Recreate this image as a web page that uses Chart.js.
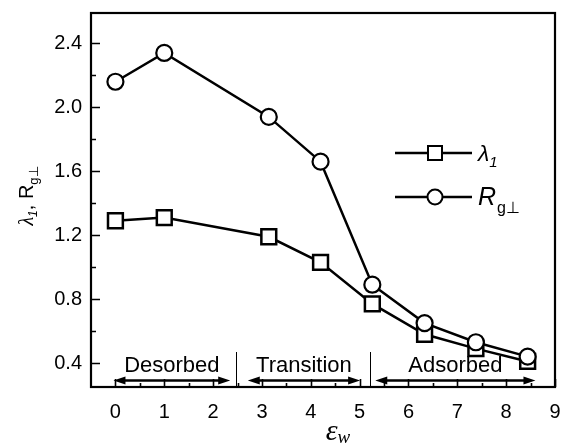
<!DOCTYPE html>
<html>
<head>
<meta charset="utf-8">
<script src="https://cdn.jsdelivr.net/npm/chart.js@4/dist/chart.umd.min.js"></script>
<style>
  html, body { margin: 0; padding: 0; background: #fff; }
  #wrap { width: 564px; height: 448px; }
</style>
</head>
<body>
<div id="wrap"><canvas id="myChart" width="564" height="448"></canvas></div>
<script>
// data
const epsW = [0, 1, 3.14, 4.2, 5.26, 6.33, 7.38, 8.44];
const lambda1 = [1.29, 1.31, 1.19, 1.03, 0.77, 0.58, 0.49, 0.41];
const rgPerp = [2.16, 2.34, 1.94, 1.66, 0.89, 0.65, 0.53, 0.44];

const xTicks = [0, 1, 2, 3, 4, 5, 6, 7, 8, 9];
const xMinor = [0.5, 1.5, 2.5, 3.5, 4.5, 5.5, 6.5, 7.5, 8.5];
const yTicks = [0.4, 0.8, 1.2, 1.6, 2.0, 2.4];
const yMinor = [0.6, 1.0, 1.4, 1.8, 2.2];

// regions marked under the curves
const regionNames = ["Desorbed", "Transition", "Adsorbed"];
const regionFrom = [-0.04, 2.71, 5.32];
const regionTo = [2.35, 5.01, 8.6];
const regionBounds = [2.47, 5.22];

const sansFont = "'Liberation Sans', Arial, sans-serif";
const serifFont = "'Liberation Serif', 'Times New Roman', serif";

function drawRuns(ctx, x, y, runs) {
  // draws text pieces one after another (for subscripts)
  let cx = x;
  runs.forEach((r) => {
    ctx.font = r.font;
    ctx.fillText(r.text, cx, y + (r.dy || 0));
    cx += ctx.measureText(r.text).width + (r.gap || 0);
  });
  return cx - x;
}

function runsWidth(ctx, runs) {
  let w = 0;
  runs.forEach((r) => {
    ctx.font = r.font;
    w += ctx.measureText(r.text).width + (r.gap || 0);
  });
  return w;
}

const framePlugin = {
  id: "frame",
  afterDraw(chart) {
    const ctx = chart.ctx;
    const { left, right, top, bottom } = chart.chartArea;
    const xs = chart.scales.x;
    const ys = chart.scales.y;
    ctx.save();
    ctx.strokeStyle = "#000";
    ctx.fillStyle = "#000";

    // box
    ctx.lineWidth = 2.2;
    ctx.strokeRect(left, top, right - left, bottom - top);

    // inward ticks
    ctx.lineWidth = 1.6;
    ctx.beginPath();
    yTicks.forEach((v) => {
      const py = Math.round(ys.getPixelForValue(v)) + 0.5;
      ctx.moveTo(left, py); ctx.lineTo(left + 9, py);
    });
    yMinor.forEach((v) => {
      const py = Math.round(ys.getPixelForValue(v)) + 0.5;
      ctx.moveTo(left, py); ctx.lineTo(left + 5, py);
    });
    xTicks.forEach((v) => {
      const px = Math.round(xs.getPixelForValue(v)) + 0.5;
      ctx.moveTo(px, bottom); ctx.lineTo(px, bottom - 8);
    });
    xMinor.forEach((v) => {
      const px = Math.round(xs.getPixelForValue(v)) + 0.5;
      ctx.moveTo(px, bottom); ctx.lineTo(px, bottom - 4);
    });
    ctx.stroke();

    // region separators
    ctx.lineWidth = 1;
    ctx.beginPath();
    regionBounds.forEach((v) => {
      const px = Math.round(xs.getPixelForValue(v)) + 0.5;
      ctx.moveTo(px, 352); ctx.lineTo(px, bottom);
    });
    ctx.stroke();

    // double arrows and region names
    const ay = ys.getPixelForValue(0.29);
    regionNames.forEach((name, i) => {
      const x0 = xs.getPixelForValue(regionFrom[i]);
      const x1 = xs.getPixelForValue(regionTo[i]);
      ctx.lineWidth = 2.5;
      ctx.beginPath();
      ctx.moveTo(x0 + 6, ay); ctx.lineTo(x1 - 6, ay);
      ctx.stroke();
      ctx.beginPath();
      ctx.moveTo(x0, ay); ctx.lineTo(x0 + 12, ay - 4); ctx.lineTo(x0 + 12, ay + 4); ctx.closePath();
      ctx.moveTo(x1, ay); ctx.lineTo(x1 - 12, ay - 4); ctx.lineTo(x1 - 12, ay + 4); ctx.closePath();
      ctx.fill();
      ctx.font = "22px " + sansFont;
      ctx.textAlign = "center";
      ctx.textBaseline = "alphabetic";
      ctx.fillText(name, (x0 + x1) / 2, 372);
    });

    // legend
    const legendRows = [
      { y: 153, style: "rect", runs: [
        { text: "\u03bb", font: "italic 23px " + sansFont },
        { text: "1", font: "italic 15px " + sansFont, dy: 6 }] },
      { y: 197, style: "circle", runs: [
        { text: "R", font: "italic 25px " + sansFont, gap: 1 },
        { text: "g\u22a5", font: "16px " + sansFont, dy: 8 }] },
    ];
    legendRows.forEach((row) => {
      ctx.lineWidth = 2.5;
      ctx.beginPath();
      ctx.moveTo(395, row.y); ctx.lineTo(472, row.y);
      ctx.stroke();
      ctx.fillStyle = "#fff";
      ctx.beginPath();
      if (row.style === "rect") {
        ctx.rect(428, row.y - 7, 14, 14);
      } else {
        ctx.arc(435, row.y, 7.5, 0, Math.PI * 2);
      }
      ctx.fill();
      ctx.lineWidth = 2;
      ctx.stroke();
      ctx.fillStyle = "#000";
      ctx.textAlign = "left";
      ctx.textBaseline = "alphabetic";
      drawRuns(ctx, 478, row.y + 8, row.runs);
    });

    // y axis title, rotated
    const yRuns = [
      { text: "\u03bb", font: "italic 20px " + serifFont },
      { text: "1", font: "italic 12px " + sansFont, dy: 4 },
      { text: ", ", font: "20px " + sansFont },
      { text: "R", font: "20px " + sansFont },
      { text: "g\u22a5", font: "13px " + sansFont, dy: 5 },
    ];
    ctx.save();
    ctx.translate(33, 196);
    ctx.rotate(-Math.PI / 2);
    ctx.textAlign = "left";
    ctx.textBaseline = "alphabetic";
    drawRuns(ctx, -runsWidth(ctx, yRuns) / 2, 0, yRuns);
    ctx.restore();

    // x axis title
    const xRuns = [
      { text: "\u03b5", font: "italic 30px " + serifFont },
      { text: "w", font: "italic 19px " + serifFont, dy: 3 },
    ];
    ctx.textAlign = "left";
    drawRuns(ctx, 338 - runsWidth(ctx, xRuns) / 2, 440, xRuns);

    ctx.restore();
  },
};

new Chart(document.getElementById("myChart"), {
  type: "scatter",
  data: {
    datasets: [
      {
        label: "lambda1",
        data: epsW.map((x, i) => ({ x, y: lambda1[i] })),
        showLine: true,
        borderColor: "#000",
        borderWidth: 2.5,
        pointStyle: "rect",
        pointRadius: 10.5,
        pointBorderWidth: 2.5,
        pointBackgroundColor: "#fff",
        pointBorderColor: "#000",
        order: 2,
      },
      {
        label: "Rg",
        data: epsW.map((x, i) => ({ x, y: rgPerp[i] })),
        showLine: true,
        borderColor: "#000",
        borderWidth: 2.5,
        pointStyle: "circle",
        pointRadius: 8,
        pointBorderWidth: 2.2,
        pointBackgroundColor: "#fff",
        pointBorderColor: "#000",
        order: 1,
      },
    ],
  },
  options: {
    responsive: false,
    animation: false,
    events: [],
    layout: { autoPadding: false, padding: { left: 0, right: 9, top: 13, bottom: 0 } },
    plugins: { legend: { display: false }, tooltip: { enabled: false } },
    scales: {
      x: {
        type: "linear",
        min: -0.5,
        max: 9,
        afterBuildTicks: (s) => { s.ticks = xTicks.map((v) => ({ value: v })); },
        afterFit: (s) => { s.height = 61; s.paddingLeft = 0; s.paddingRight = 0; },
        grid: { display: false, drawTicks: false },
        border: { display: false },
        ticks: {
          color: "#000",
          padding: 13,
          maxRotation: 0,
          autoSkip: false,
          font: { family: sansFont, size: 20 },
          callback: (v) => String(v),
        },
      },
      y: {
        type: "linear",
        min: 0.25,
        max: 2.59,
        afterBuildTicks: (s) => { s.ticks = yTicks.map((v) => ({ value: v })); },
        afterFit: (s) => { s.width = 91; s.paddingTop = 0; s.paddingBottom = 0; },
        grid: { display: false, drawTicks: false },
        border: { display: false },
        ticks: {
          color: "#000",
          padding: 9,
          autoSkip: false,
          font: { family: sansFont, size: 20 },
          callback: (v) => v.toFixed(1),
        },
      },
    },
  },
  plugins: [framePlugin],
});
</script>
</body>
</html>
